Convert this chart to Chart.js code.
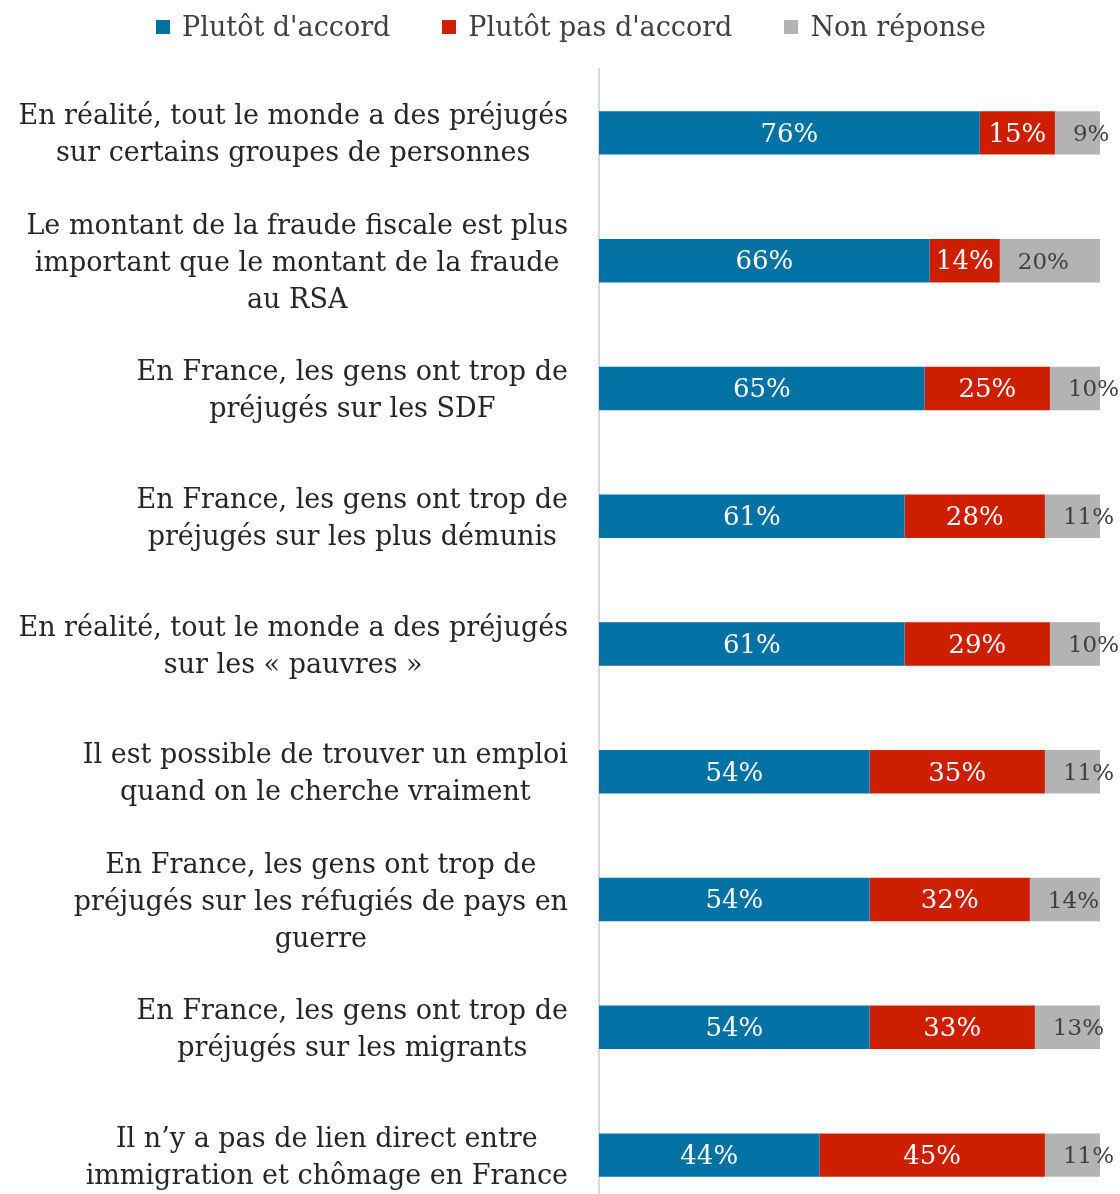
<!DOCTYPE html>
<html lang="fr">
<head>
<meta charset="utf-8">
<script src="https://cdn.jsdelivr.net/npm/chart.js@4/dist/chart.umd.min.js"></script>
<style>
    html, body { margin: 0; padding: 0; background: #fff; overflow: hidden; }
    #wrap { position: relative; width: 1120px; height: 1219px; }
    #legend {
        position: absolute; top: 10px; left: 0; width: 1098px; padding-left: 22px;
        display: flex; justify-content: center; gap: 52px;
        font-family: "DejaVu Serif", serif; font-size: 27px; line-height: 34px; color: #404040;
    }
    #legend .item { display: flex; align-items: center; }
    #legend .box { width: 14px; height: 14px; margin-right: 12px; }
</style>
</head>
<body>
<div id="wrap">
    <div id="legend"></div>
    <canvas id="chart" width="1120" height="1219"></canvas>
</div>
<script>
// Data
const questions = [
    ['En réalité, tout le monde a des préjugés', 'sur certains groupes de personnes'],
    ['Le montant de la fraude fiscale est plus', 'important que le montant de la fraude', 'au RSA'],
    ['En France, les gens ont trop de', 'préjugés sur les SDF'],
    ['En France, les gens ont trop de', 'préjugés sur les plus démunis'],
    ['En réalité, tout le monde a des préjugés', 'sur les « pauvres »'],
    ['Il est possible de trouver un emploi', 'quand on le cherche vraiment'],
    ['En France, les gens ont trop de', 'préjugés sur les réfugiés de pays en', 'guerre'],
    ['En France, les gens ont trop de', 'préjugés sur les migrants'],
    ['Il n’y a pas de lien direct entre', 'immigration et chômage en France']
];
const seriesNames = ["Plutôt d'accord", "Plutôt pas d'accord", 'Non réponse'];
const accord = [76, 66, 65, 61, 61, 54, 54, 54, 44];
const pasAccord = [15, 14, 25, 28, 29, 35, 32, 33, 45];
const nonReponse = [9, 20, 10, 11, 10, 11, 14, 13, 11];
const colors = ['#0271A3', '#CD1F00', '#B3B3B3'];

const FONT = '"DejaVu Serif", serif';

// HTML legend
const legendEl = document.getElementById('legend');
seriesNames.forEach((name, i) => {
    const item = document.createElement('div');
    item.className = 'item';
    item.innerHTML = '<span class="box" style="background:' + colors[i] + '"></span>' + name;
    legendEl.appendChild(item);
});

// Category labels: each block centred on itself, block right-aligned against the axis
const categoryLabels = {
    id: 'categoryLabels',
    afterDraw(chart) {
        const ctx = chart.ctx;
        const yScale = chart.scales.y;
        const lineH = 37;
        const rightEdge = 568;
        ctx.save();
        ctx.font = '27px ' + FONT;
        ctx.fillStyle = '#262626';
        ctx.textAlign = 'center';
        ctx.textBaseline = 'middle';
        questions.forEach((lines, i) => {
            const y = yScale.getPixelForValue(i) + 3;
            const maxW = Math.max(...lines.map(l => ctx.measureText(l).width));
            const cx = rightEdge - maxW / 2;
            const top = y - lines.length * lineH / 2;
            lines.forEach((l, k) => ctx.fillText(l, cx, top + lineH * (k + 0.5)));
        });
        ctx.restore();
    }
};

// Percent labels inside the bars
const valueLabels = {
    id: 'valueLabels',
    afterDatasetsDraw(chart) {
        const ctx = chart.ctx;
        ctx.save();
        ctx.textBaseline = 'middle';
        chart.data.datasets.forEach((ds, di) => {
            chart.getDatasetMeta(di).data.forEach((bar, i) => {
                const text = ds.data[i] + '%';
                if (di === 2) {
                    ctx.font = '23px ' + FONT;
                    ctx.fillStyle = '#404040';
                    ctx.textAlign = 'left';
                    ctx.fillText(text, bar.base + 18, bar.y + 2);
                } else {
                    ctx.font = '26px ' + FONT;
                    ctx.fillStyle = '#ffffff';
                    ctx.textAlign = 'center';
                    ctx.fillText(text, (bar.base + bar.x) / 2, bar.y + 2);
                }
            });
        });
        ctx.restore();
    }
};

new Chart(document.getElementById('chart'), {
    type: 'bar',
    data: {
        labels: questions,
        datasets: [
            { label: seriesNames[0], data: accord, backgroundColor: colors[0] },
            { label: seriesNames[1], data: pasAccord, backgroundColor: colors[1] },
            { label: seriesNames[2], data: nonReponse, backgroundColor: colors[2] }
        ]
    },
    options: {
        indexAxis: 'y',
        responsive: false,
        animation: false,
        layout: { padding: { top: 69, right: 20, bottom: 0, left: 0 } },
        datasets: { bar: { barPercentage: 0.34, categoryPercentage: 1 } },
        plugins: {
            legend: { display: false },
            tooltip: { enabled: false }
        },
        scales: {
            x: { stacked: true, min: 0, max: 100, display: false },
            y: {
                stacked: true,
                ticks: { display: false },
                grid: { display: false },
                border: { display: true, color: '#D9D9D9', width: 2 },
                afterFit(scale) { scale.width = 599; }
            }
        }
    },
    plugins: [categoryLabels, valueLabels]
});
</script>
</body>
</html>
